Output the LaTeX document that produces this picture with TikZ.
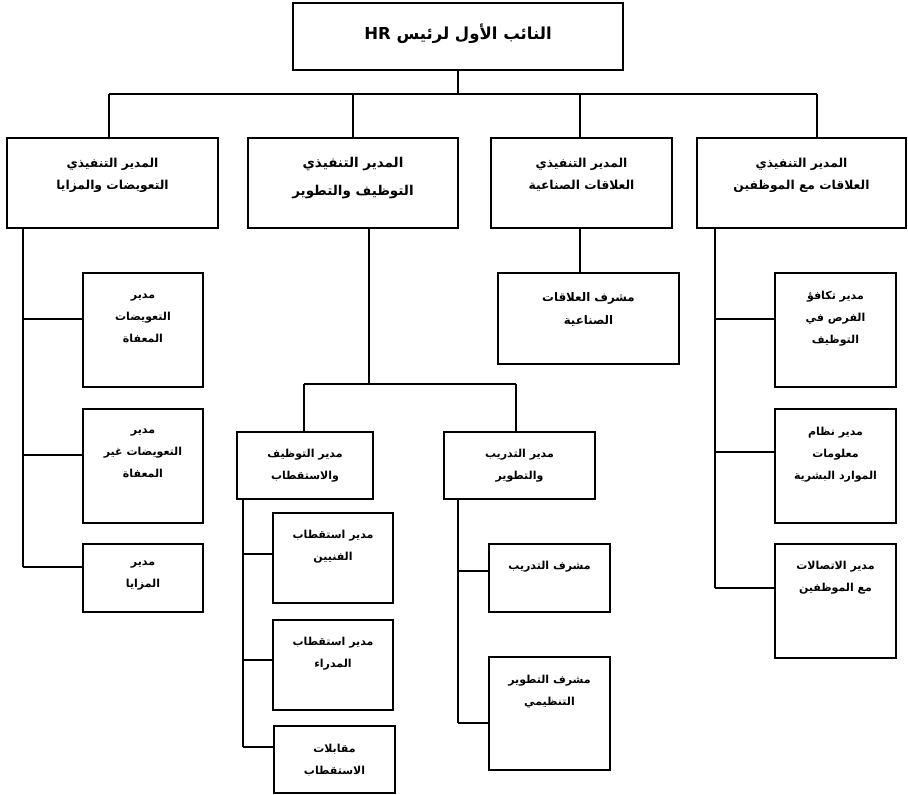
\documentclass[tikz,border=0pt]{standalone}
\usepackage{fontspec}
\newfontfamily\arabicfont[Script=Arabic]{DejaVu Sans}
\TeXXeTstate=1
% one right-to-left line of Arabic text
\newcommand\ar[1]{\beginR #1\endR}
% \obox{name}{left}{top}{width}{height}
\newcommand\obox[5]{\node[box, minimum width=#4pt, minimum height=#5pt] (#1) at (#2,#3) {};}

\begin{document}
\begin{tikzpicture}[x=1pt,y=-1pt,
  box/.style={draw, line width=1.7pt, anchor=north west, inner sep=0pt, outer sep=0pt},
  wire/.style={line width=1.6pt},
  txt/.style={font=\arabicfont\bfseries\fontsize{11}{22}\selectfont, align=center, anchor=north, inner sep=0pt},
  txtmid/.style={txt, font=\arabicfont\bfseries\fontsize{12.3}{22}\selectfont},
  txtbig/.style={txt, font=\arabicfont\bfseries\fontsize{13.5}{28}\selectfont},
  txtsup/.style={txt, font=\arabicfont\bfseries\fontsize{11.8}{23}\selectfont},
  txttop/.style={txt, font=\arabicfont\bfseries\fontsize{16.5}{18}\selectfont},
]
\fill[white] (0,0) rectangle (908,795);
\useasboundingbox (0,0) rectangle (908,795);

% ---- head ----
\obox{head}{293}{3}{330}{67}
\node[txttop] (head-t) at ([yshift=-21pt]head.north) {\ar{النائب الأول لرئيس \beginL HR\endL}};

% ---- executive directors ----
\obox{comp}{7}{138}{211}{90}
\obox{recr}{248}{138}{210}{90}
\obox{indu}{491}{138}{181}{90}
\obox{empl}{697}{138}{209}{90}
\node[txtmid] (comp-t) at ([yshift=-20pt]comp.north) {\ar{المدير التنفيذي}\\\ar{التعويضات والمزايا}};
\node[txtbig] (recr-t) at ([yshift=-19pt]recr.north) {\ar{المدير التنفيذي}\\\ar{التوظيف والتطوير}};
\node[txtmid] (indu-t) at ([yshift=-20pt]indu.north) {\ar{المدير التنفيذي}\\\ar{العلاقات الصناعية}};
\node[txtmid] (empl-t) at ([yshift=-20pt]empl.north) {\ar{المدير التنفيذي}\\\ar{العلاقات مع الموظفين}};

\coordinate (d1) at (109,94);
\coordinate (d2) at (353,94);
\coordinate (d3) at (580,94);
\coordinate (d4) at (817,94);
\draw[wire] (head.south) -- (head.south |- d1);
\draw[wire] (d1) -- (d4);
\draw[wire] (d1) -- (d1 |- comp.north);
\draw[wire] (d2) -- (d2 |- recr.north);
\draw[wire] (d3) -- (d3 |- indu.north);
\draw[wire] (d4) -- (d4 |- empl.north);

% ---- compensation branch ----
\obox{cexm}{83}{273}{120}{114}
\obox{cnon}{83}{409}{120}{114}
\obox{cben}{83}{544}{120}{68}
\node[txt] (cexm-t) at ([yshift=-21pt]cexm.north) {\ar{مدير}\\\ar{التعويضات}\\\ar{المعفاة}};
\node[txt] (cnon-t) at ([yshift=-20pt]cnon.north) {\ar{مدير}\\\ar{التعويضات غير}\\\ar{المعفاة}};
\node[txt] (cben-t) at ([yshift=-17pt]cben.north) {\ar{مدير}\\\ar{المزايا}};
\coordinate (ct1) at (23,319);
\coordinate (ct2) at (23,455);
\coordinate (ct3) at (23,567);
\draw[wire] (ct1 |- comp.south) -- (ct3);
\draw[wire] (ct1) -- (ct1 -| cexm.west);
\draw[wire] (ct2) -- (ct2 -| cnon.west);
\draw[wire] (ct3) -- (ct3 -| cben.west);

% ---- industrial relations branch ----
\obox{isup}{498}{273}{181}{91}
\node[txtsup] (isup-t) at ([yshift=-19pt]isup.north) {\ar{مشرف العلاقات}\\\ar{الصناعية}};
\coordinate (it) at (580,250);
\draw[wire] (it |- indu.south) -- (it |- isup.north);

% ---- employee relations branch ----
\obox{eeq}{775}{273}{121}{114}
\obox{ehr}{775}{409}{121}{114}
\obox{ecom}{775}{544}{121}{114}
\node[txt] (eeq-t) at ([yshift=-18pt]eeq.north) {\ar{مدير تكافؤ}\\\ar{الفرص في}\\\ar{التوظيف}};
\node[txt] (ehr-t) at ([yshift=-18pt]ehr.north) {\ar{مدير نظام}\\\ar{معلومات}\\\ar{الموارد البشرية}};
\node[txt] (ecom-t) at ([yshift=-17pt]ecom.north) {\ar{مدير الاتصالات}\\\ar{مع الموظفين}};
\coordinate (et1) at (715,319);
\coordinate (et2) at (715,452);
\coordinate (et3) at (715,588);
\draw[wire] (et1 |- empl.south) -- (et3);
\draw[wire] (et1) -- (et1 -| eeq.west);
\draw[wire] (et2) -- (et2 -| ehr.west);
\draw[wire] (et3) -- (et3 -| ecom.west);

% ---- recruitment & development branch ----
\obox{hire}{237}{432}{136}{67}
\obox{train}{444}{432}{151}{67}
\node[txt] (hire-t) at ([yshift=-17pt]hire.north) {\ar{مدير التوظيف}\\\ar{والاستقطاب}};
\node[txt] (train-t) at ([yshift=-17pt]train.north) {\ar{مدير التدريب}\\\ar{والتطوير}};
\coordinate (rt) at (369,384);
\coordinate (rl) at (304,384);
\coordinate (rr) at (516,384);
\draw[wire] (rt |- recr.south) -- (rt);
\draw[wire] (rl) -- (rr);
\draw[wire] (rl) -- (rl |- hire.north);
\draw[wire] (rr) -- (rr |- train.north);

% recruitment managers
\obox{htec}{273}{513}{120}{90}
\obox{hmgr}{273}{620}{120}{90}
\obox{hint}{274}{726}{121}{67}
\node[txt] (htec-t) at ([yshift=-17pt]htec.north) {\ar{مدير استقطاب}\\\ar{الفنيين}};
\node[txt] (hmgr-t) at ([yshift=-17pt]hmgr.north) {\ar{مدير استقطاب}\\\ar{المدراء}};
\node[txt] (hint-t) at ([yshift=-18pt]hint.north) {\ar{مقابلات}\\\ar{الاستقطاب}};
\coordinate (ht1) at (243,554);
\coordinate (ht2) at (243,660);
\coordinate (ht3) at (243,747);
\draw[wire] (ht1 |- hire.south) -- (ht3);
\draw[wire] (ht1) -- (ht1 -| htec.west);
\draw[wire] (ht2) -- (ht2 -| hmgr.west);
\draw[wire] (ht3) -- (ht3 -| hint.west);

% training supervisors
\obox{tsup}{489}{544}{121}{68}
\obox{tdev}{489}{657}{121}{113}
\node[txt] (tsup-t) at ([yshift=-17pt]tsup.north) {\ar{مشرف التدريب}};
\node[txt] (tdev-t) at ([yshift=-18pt]tdev.north) {\ar{مشرف التطوير}\\\ar{التنظيمي}};
\coordinate (tt1) at (458,571);
\coordinate (tt2) at (458,723);
\draw[wire] (tt1 |- train.south) -- (tt2);
\draw[wire] (tt1) -- (tt1 -| tsup.west);
\draw[wire] (tt2) -- (tt2 -| tdev.west);
\end{tikzpicture}
\end{document}
